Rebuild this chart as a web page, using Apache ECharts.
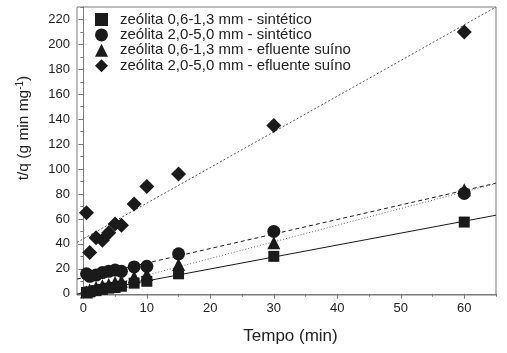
<!DOCTYPE html>
<html>
<head>
<meta charset="utf-8">
<script src="https://cdn.jsdelivr.net/npm/echarts@6/dist/echarts.min.js"></script>
<style>
  html, body { margin: 0; padding: 0; background: #fff; }
  #chart { width: 507px; height: 353px; }
</style>
</head>
<body>
<div id="chart"></div>
<script>
// tempos de coleta (min)
const tempo = [0.5, 1, 2, 3, 4, 5, 6, 8, 10, 15, 30, 60]

// t/q para cada ensaio
const sint06 = [1, 1.5, 2.5, 3.5, 4.5, 5, 6, 8.5, 10, 16, 30, 57.5]
const sint20 = [16, 14, 15, 17, 18, 19, 18, 21.5, 22, 32, 50, 80.5]
const eflu06 = [1.5, 3, 5, 6.5, 7.5, 9, 10, 13.5, 15.5, 23.5, 41, 83.5]
const eflu20 = [65, 33, 45, 43, 49, 56, 55, 72, 86, 96, 135, 210]

// retas de ajuste (extremos)
const fit06sint = [[-1, -0.2], [65, 63]]
const fit20sint = [[-1, 11.8], [65, 88.7]]
const fit06eflu = [[-1, 0.2], [65, 88.4]]
const fit20eflu = [[-1, 41.2], [65, 230]]

const legendNames = [
  'zeólita 0,6-1,3 mm - sintético',
  'zeólita 2,0-5,0 mm - sintético',
  'zeólita 0,6-1,3 mm - efluente suíno',
  'zeólita 2,0-5,0 mm - efluente suíno'
]

const xMajor = [0, 10, 20, 30, 40, 50, 60]
const xMinor = [5, 15, 25, 35, 45, 55, 65]
const yMajor = [0, 20, 40, 60, 80, 100, 120, 140, 160, 180, 200, 220]
const yMinor = [10, 30, 50, 70, 90, 110, 130, 150, 170, 190, 210, 230]

const axisGray = '#7a7a7a'
const ink = '#1a1a1a'
const font = 'Liberation Sans, Arial, sans-serif'

const pts = (ys) => tempo.map((t, i) => [t, ys[i]])

const chart = echarts.init(document.getElementById('chart'))

const scatter = (name, ys, symbol, size) => ({
  name,
  type: 'scatter',
  data: pts(ys),
  symbol,
  symbolSize: size,
  itemStyle: { color: ink, opacity: 1 },
  z: 5
})

const fitLine = (data, type, color) => ({
  type: 'line',
  data,
  symbol: 'none',
  silent: true,
  lineStyle: { color, width: 1, type },
  z: 3
})

const minorX = {
  type: 'value', min: -1, max: 65, position: 'bottom',
  axisLine: { show: false },
  axisLabel: { show: false },
  splitLine: { show: false },
  axisTick: { show: true, length: 3, customValues: xMinor, lineStyle: { color: axisGray } }
}
const minorY = {
  type: 'value', min: -1, max: 230, position: 'left',
  axisLine: { show: false },
  axisLabel: { show: false },
  splitLine: { show: false },
  axisTick: { show: true, length: 3, customValues: yMinor, lineStyle: { color: axisGray } }
}

chart.setOption({
  animation: false,
  textStyle: { fontFamily: font },
  grid: {
    left: 77, right: 11, top: 7, bottom: 58,
    show: true, borderColor: axisGray, borderWidth: 1
  },
  legend: {
    data: legendNames,
    orient: 'vertical',
    left: 90,
    top: 7,
    itemWidth: 13,
    itemHeight: 13,
    itemGap: 0.4,
    selectedMode: false,
    textStyle: { fontSize: 15, lineHeight: 13, color: '#222', fontFamily: font, padding: [0, 0, 0, 7] }
  },
  xAxis: [
    {
      type: 'value', min: -1, max: 65,
      name: 'Tempo (min)',
      nameLocation: 'middle',
      nameGap: 33,
      nameTextStyle: { fontSize: 17, color: '#222', padding: [0, 0, 0, 8] },
      axisLine: { show: true, lineStyle: { color: axisGray } },
      axisTick: { show: true, length: 5, customValues: xMajor, lineStyle: { color: axisGray } },
      axisLabel: { customValues: xMajor, fontSize: 13, color: '#222', margin: 7 },
      splitLine: { show: false }
    },
    minorX
  ],
  yAxis: [
    {
      type: 'value', min: -1, max: 230,
      name: '{a|t/q (g min mg}{s|-1}{a|)}',
      nameLocation: 'middle',
      nameGap: 44,
      nameRotate: 90,
      nameTextStyle: {
        padding: [0, 0, 0, 46],
        rich: {
          a: { fontSize: 15.5, color: '#222', fontFamily: font },
          s: { fontSize: 10, color: '#222', fontFamily: font, verticalAlign: 'top', padding: [0, 0, 8, 0] }
        }
      },
      axisLine: { show: true, lineStyle: { color: axisGray } },
      axisTick: { show: true, length: 5, customValues: yMajor, lineStyle: { color: axisGray } },
      axisLabel: { customValues: yMajor, fontSize: 13, color: '#222', margin: 7 },
      splitLine: { show: false }
    },
    minorY
  ],
  series: [
    fitLine(fit06sint, 'solid', ink),
    fitLine(fit20sint, [4, 3], ink),
    fitLine(fit06eflu, [1, 2], '#666'),
    fitLine(fit20eflu, [2, 2], '#555'),
    scatter(legendNames[0], sint06, 'rect', 11),
    scatter(legendNames[2], eflu06, 'triangle', 13),
    scatter(legendNames[1], sint20, 'circle', 13),
    scatter(legendNames[3], eflu20, 'diamond', 15)
  ]
})
</script>
</body>
</html>
